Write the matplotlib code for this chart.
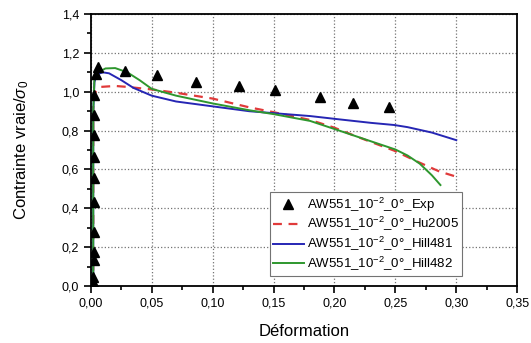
import matplotlib
matplotlib.use("Agg")
import matplotlib.pyplot as plt
from matplotlib.ticker import MultipleLocator, FuncFormatter

plt.rcParams['font.family'] = ['Liberation Sans', 'DejaVu Sans']
plt.rcParams['mathtext.fontset'] = 'custom'
plt.rcParams['mathtext.rm'] = 'Liberation Sans'
plt.rcParams['mathtext.it'] = 'Liberation Sans:italic'

# Données expérimentales
exp_x = [0.002, 0.002, 0.002, 0.003, 0.003, 0.003, 0.003, 0.003, 0.003, 0.003,
         0.003, 0.003, 0.004, 0.006, 0.028, 0.054, 0.086, 0.122, 0.151, 0.188,
         0.215, 0.245]
exp_y = [0.0, 0.022, 0.048, 0.134, 0.177, 0.28, 0.434, 0.554, 0.666, 0.777,
         0.88, 0.983, 1.09, 1.125, 1.108, 1.086, 1.052, 1.029, 1.009, 0.974,
         0.942, 0.92]

# Hu2005
hu_x = [0.002, 0.002, 0.004, 0.008, 0.02, 0.03, 0.05, 0.07, 0.1, 0.13, 0.15,
        0.18, 0.2, 0.218, 0.235, 0.249, 0.27, 0.286, 0.3]
hu_y = [0.0, 0.95, 1.0, 1.025, 1.03, 1.025, 1.012, 0.995, 0.965, 0.92, 0.895,
        0.855, 0.815, 0.77, 0.73, 0.697, 0.635, 0.59, 0.563]

# Hill481
h1_x = [0.002, 0.002, 0.003, 0.005, 0.01, 0.015, 0.025, 0.035, 0.05, 0.07,
        0.1, 0.13, 0.15, 0.18, 0.204, 0.23, 0.249, 0.26, 0.28, 0.3]
h1_y = [0.0, 0.9, 1.05, 1.09, 1.10, 1.095, 1.06, 1.02, 0.98, 0.95, 0.925,
        0.9, 0.89, 0.875, 0.858, 0.84, 0.829, 0.818, 0.79, 0.751]

# Hill482
h2_x = [0.002, 0.002, 0.003, 0.006, 0.012, 0.02, 0.03, 0.04, 0.05, 0.07, 0.1,
        0.13, 0.15, 0.18, 0.204, 0.23, 0.25, 0.26, 0.27, 0.28, 0.287]
h2_y = [0.0, 0.9, 1.07, 1.1, 1.12, 1.122, 1.10, 1.06, 1.015, 0.98, 0.94,
        0.905, 0.885, 0.85, 0.80, 0.745, 0.703, 0.672, 0.63, 0.57, 0.52]

labels = [r'AW551_10$^{-2}$_0°_Exp', r'AW551_10$^{-2}$_0°_Hu2005',
          r'AW551_10$^{-2}$_0°_Hill481', r'AW551_10$^{-2}$_0°_Hill482']

fig = plt.figure(figsize=(5.31, 3.43), dpi=100)
ax = fig.add_axes([0.171, 0.166, 0.803, 0.793])

ax.plot(exp_x, exp_y, '^', color='black', markersize=7, label=labels[0], zorder=5)
ax.plot(hu_x, hu_y, '--', color='#e03a3a', linewidth=1.6, dashes=(4, 3), label=labels[1])
ax.plot(h1_x, h1_y, '-', color='#2626b4', linewidth=1.4, label=labels[2])
ax.plot(h2_x, h2_y, '-', color='#2e972e', linewidth=1.4, label=labels[3])

ax.set_xlim(0, 0.35)
ax.set_ylim(0, 1.4)
ax.xaxis.set_major_locator(MultipleLocator(0.05))
ax.xaxis.set_minor_locator(MultipleLocator(0.025))
ax.yaxis.set_major_locator(MultipleLocator(0.2))
ax.yaxis.set_minor_locator(MultipleLocator(0.1))
ax.xaxis.set_major_formatter(FuncFormatter(lambda v, p: f'{v:.2f}'.replace('.', ',')))
ax.yaxis.set_major_formatter(FuncFormatter(lambda v, p: f'{v:.1f}'.replace('.', ',')))

ax.tick_params(which='both', direction='out', width=1.2, labelsize=9)
ax.tick_params(which='major', length=5)
ax.tick_params(which='minor', length=3)
for s in ax.spines.values():
    s.set_linewidth(1.3)

ax.grid(True, which='major', linestyle=':', color='0.45', linewidth=0.9)

ax.set_xlabel('Déformation', fontsize=12, labelpad=10)
ax.set_ylabel(r'Contrainte vraie/$\sigma_0$', fontsize=12, labelpad=22)

leg = ax.legend(loc='lower left', bbox_to_anchor=(0.42, 0.037, 0.451, 0.294),
                mode='expand', fontsize=9.5, handlelength=2.3, fancybox=False,
                framealpha=1, edgecolor='0.45', borderaxespad=0, borderpad=0.25,
                labelspacing=0.12, handletextpad=0.3)
leg.get_frame().set_linewidth(0.8)

fig.savefig('out.png', dpi=100)
